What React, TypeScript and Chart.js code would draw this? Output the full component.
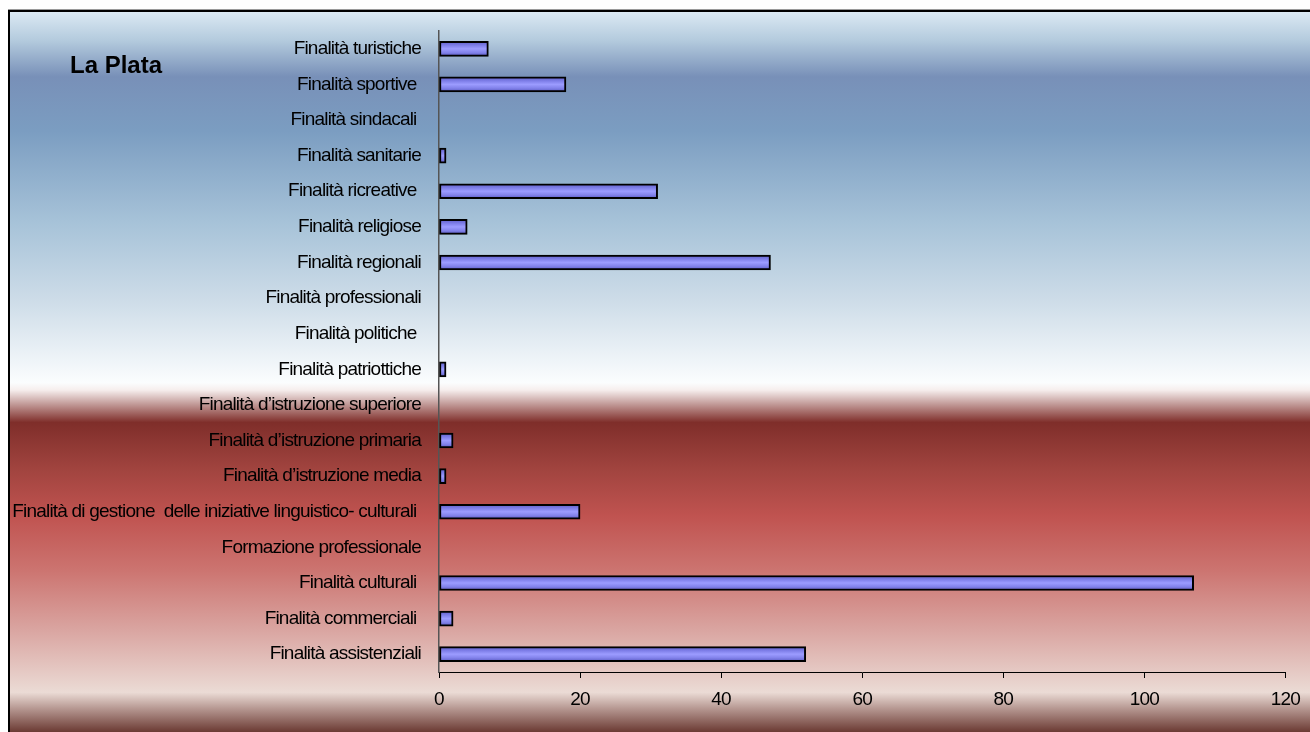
import { useEffect, useRef } from "react";
import { Chart, registerables } from "chart.js";

Chart.register(...registerables);

// Categories, listed top to bottom as they appear on the vertical axis
const categories = [
  "Finalità turistiche",
  "Finalità sportive ",
  "Finalità sindacali ",
  "Finalità sanitarie",
  "Finalità ricreative ",
  "Finalità religiose",
  "Finalità regionali",
  "Finalità professionali",
  "Finalità politiche ",
  "Finalità patriottiche",
  "Finalità d’istruzione superiore",
  "Finalità d’istruzione primaria",
  "Finalità d’istruzione media",
  "Finalità di gestione  delle iniziative linguistico- culturali ",
  "Formazione professionale",
  "Finalità culturali ",
  "Finalità commerciali ",
  "Finalità assistenziali",
];

// Number of associations per purpose
const counts = [7, 18, 0, 1, 31, 4, 47, 0, 0, 1, 0, 2, 1, 20, 0, 107, 2, 52];

// Value axis range and step
const axisMin = 0;
const axisMax = 120;
const axisStep = 20;

const chartTitle = "La Plata";

const FONT = "'Liberation Sans', Arial, Helvetica, sans-serif";
const TIGHT = "-0.8px";
const LABEL_SIZE = 19;
const BAR_THICKNESS = 15;

// Paints the framed backdrop with its blue / white / red bands, and the title
const backdropPlugin = {
  id: "backdrop",
  beforeUpdate(chart: any) {
    chart.ctx.letterSpacing = TIGHT;
  },
  beforeDraw(chart: any) {
    const { ctx, width, height } = chart;
    ctx.save();
    ctx.fillStyle = "#ffffff";
    ctx.fillRect(0, 0, width, height);
    const g = ctx.createLinearGradient(0, 12, 0, height);
    const stops: [number, string][] = [
      [0.0, "#dbe9f3"],
      [0.04, "#b3cadd"],
      [0.09, "#7890b8"],
      [0.165, "#7b9dc1"],
      [0.29, "#a6c2d8"],
      [0.4, "#cddce8"],
      [0.515, "#fbfdfe"],
      [0.525, "#f6eeed"],
      [0.57, "#7f2e2a"],
      [0.635, "#a1443f"],
      [0.7, "#c05350"],
      [0.775, "#cc7470"],
      [0.86, "#daa6a2"],
      [0.945, "#ebdbd5"],
      [0.97, "#b0908a"],
      [1.0, "#6b3a33"],
    ];
    stops.forEach(([o, c]) => g.addColorStop(o, c));
    ctx.fillStyle = g;
    ctx.fillRect(10, 12, width - 10, height - 12);
    ctx.fillStyle = "#9a9a9a";
    ctx.fillRect(8, 9, width - 8, 1);
    ctx.fillStyle = "#000000";
    ctx.fillRect(8, 10, width - 8, 2);
    ctx.fillRect(8, 10, 2, height - 10);
    ctx.restore();
    ctx.letterSpacing = TIGHT;
  },
  afterDraw(chart: any) {
    const { ctx } = chart;
    ctx.save();
    ctx.letterSpacing = "0px";
    ctx.font = `bold 24px ${FONT}`;
    ctx.fillStyle = "#000000";
    ctx.textAlign = "left";
    ctx.textBaseline = "alphabetic";
    ctx.fillText(chartTitle, 70, 73);
    ctx.restore();
  },
};

// Cylinder-like shading across each bar's thickness
function barFill(c: any) {
  const yScale = c.chart.scales?.y;
  if (!yScale || c.dataIndex === undefined) return "#8f8ff5";
  const cy = yScale.getPixelForValue(c.dataIndex);
  if (!Number.isFinite(cy)) return "#8f8ff5";
  const g = c.chart.ctx.createLinearGradient(0, cy - BAR_THICKNESS / 2, 0, cy + BAR_THICKNESS / 2);
  g.addColorStop(0, "#5c5cc4");
  g.addColorStop(0.25, "#7c7ce6");
  g.addColorStop(0.5, "#9c9cff");
  g.addColorStop(0.75, "#8282ea");
  g.addColorStop(1, "#5858c0");
  return g;
}

export default function App() {
  const canvasRef = useRef<HTMLCanvasElement | null>(null);

  useEffect(() => {
    if (!canvasRef.current) return;
    const chart = new Chart(canvasRef.current, {
      type: "bar",
      data: {
        labels: categories,
        datasets: [
          {
            data: counts,
            backgroundColor: barFill,
            borderColor: "#000000",
            borderWidth: 2,
            borderSkipped: false,
            barThickness: BAR_THICKNESS,
          },
        ],
      },
      options: {
        indexAxis: "y",
        animation: false,
        responsive: false,
        maintainAspectRatio: false,
        events: [],
        layout: { padding: { left: 9, right: 23, top: 31, bottom: 0 } },
        plugins: {
          legend: { display: false },
          tooltip: { enabled: false },
          title: { display: false },
        },
        scales: {
          x: {
            type: "linear",
            min: axisMin,
            max: axisMax,
            ticks: {
              stepSize: axisStep,
              color: "#000000",
              font: { family: FONT, size: LABEL_SIZE },
              padding: 10,
              maxRotation: 0,
            },
            grid: {
              drawOnChartArea: false,
              drawTicks: true,
              tickLength: 6,
              color: "#000000",
              lineWidth: 1,
            },
            border: { display: true, color: "#000000", width: 1 },
            afterFit: (s: any) => {
              s.height = 60;
            },
          },
          y: {
            type: "category",
            ticks: {
              color: "#000000",
              font: { family: FONT, size: LABEL_SIZE },
              padding: 18,
              autoSkip: false,
            },
            grid: { display: false, drawTicks: false },
            border: { display: true, color: "#555555", width: 1.5 },
            afterFit: (s: any) => {
              s.width = 430;
            },
          },
        },
      },
      plugins: [backdropPlugin],
    });
    return () => chart.destroy();
  }, []);

  return (
    <div
      style={{
        position: "fixed",
        left: 0,
        top: 0,
        width: 1310,
        height: 732,
        overflow: "hidden",
        background: "#ffffff",
      }}
    >
      <canvas ref={canvasRef} width={1310} height={732} style={{ display: "block" }} />
    </div>
  );
}
